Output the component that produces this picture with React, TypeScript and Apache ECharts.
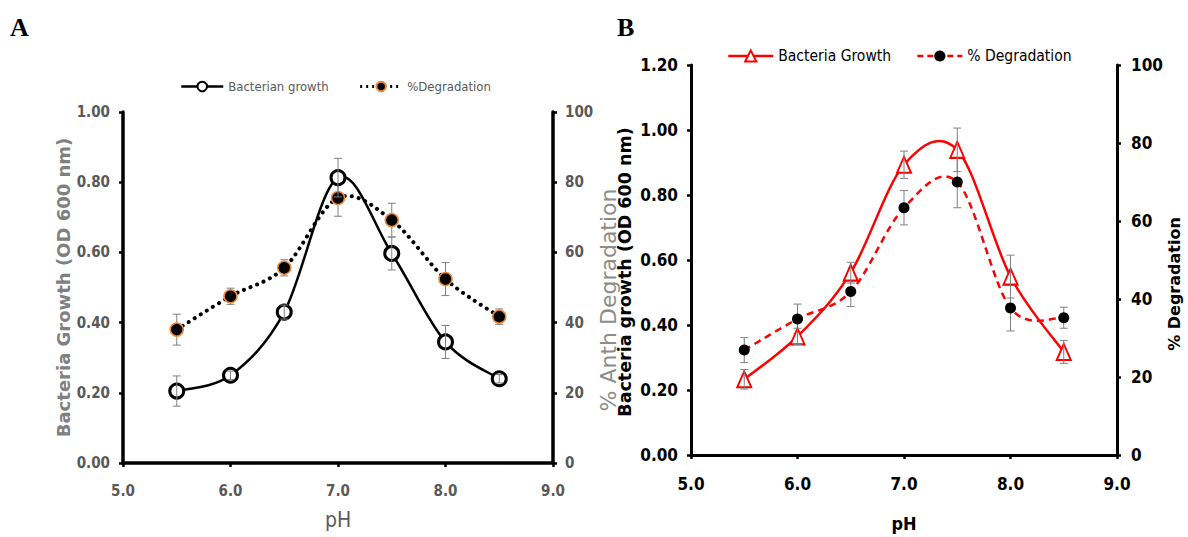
import React, { useEffect, useRef } from "react";
import * as echarts from "echarts";

const pH = [5.5, 6.0, 6.5, 7.0, 7.5, 8.0, 8.5];
const xTicks = [5, 6, 7, 8, 9];

// Panel A
const growthA = [0.205, 0.25, 0.43, 0.813, 0.597, 0.345, 0.24];
const growthAErr = [0.043, 0.012, 0.02, 0.055, 0.047, 0.047, 0.012];
const degA = [38, 47.5, 55.6, 75.5, 69.2, 52.4, 41.7];
const degAErr = [4.4, 2.3, 2.3, 5.2, 4.8, 4.7, 2.2];

// Panel B
const growthB = [0.233, 0.365, 0.561, 0.893, 0.939, 0.549, 0.317];
const growthBErr = [0.03, 0.025, 0.032, 0.042, 0.067, 0.066, 0.035];
const degB = [26.9, 34.9, 41.9, 63.4, 70, 37.7, 35.2];
const degBErr = [3.2, 3.8, 3.8, 4.4, 6.6, 5.9, 2.7];

const NARROW = "'Liberation Sans Narrow', 'DejaVu Sans Condensed', 'Roboto', sans-serif";
const WIDE = "'DejaVu Sans', 'Verdana', sans-serif";

// Smooth (Excel-like) spline through the points produced by the axis scales
echarts.graphic.registerShape(
  "crSpline",
  (echarts.graphic as any).extendShape({
    shape: { points: [] as number[][] },
    buildPath(ctx: any, shape: any) {
      const p = shape.points;
      const n = p.length;
      if (n < 2) return;
      ctx.moveTo(p[0][0], p[0][1]);
      for (let i = 0; i < n - 1; i++) {
        const p0 = p[Math.max(i - 1, 0)];
        const p1 = p[i];
        const p2 = p[i + 1];
        const p3 = p[Math.min(i + 2, n - 1)];
        ctx.bezierCurveTo(
          p1[0] + (p2[0] - p0[0]) / 6,
          p1[1] + (p2[1] - p0[1]) / 6,
          p2[0] - (p3[0] - p1[0]) / 6,
          p2[1] - (p3[1] - p1[1]) / 6,
          p2[0],
          p2[1]
        );
      }
    },
  })
);

function pairs(vals: number[]) {
  return pH.map((x, i) => [x, vals[i]]);
}
function triples(vals: number[], errs: number[]) {
  return pH.map((x, i) => [x, vals[i], errs[i]]);
}

function curveRender(style: any) {
  return (params: any, api: any) => {
    if (params.dataIndexInside !== 0) return null;
    const n = params.dataInsideLength;
    const pts: number[][] = [];
    for (let i = 0; i < n; i++) {
      pts.push(api.coord([api.value(0, i), api.value(1, i)]));
    }
    return { type: "crSpline", shape: { points: pts }, style: { fill: null, ...style } };
  };
}

function errRender(params: any, api: any) {
  const x = api.value(0);
  const y = api.value(1);
  const e = api.value(2);
  const top = api.coord([x, y + e]);
  const bot = api.coord([x, y - e]);
  const w = 4;
  const st = { stroke: "#808080", lineWidth: 1 };
  return {
    type: "group",
    children: [
      { type: "line", shape: { x1: top[0], y1: top[1], x2: bot[0], y2: bot[1] }, style: st },
      { type: "line", shape: { x1: top[0] - w, y1: top[1], x2: top[0] + w, y2: top[1] }, style: st },
      { type: "line", shape: { x1: bot[0] - w, y1: bot[1], x2: bot[0] + w, y2: bot[1] }, style: st },
    ],
  };
}

export default function App() {
  const ref = useRef<HTMLDivElement>(null);
  useEffect(() => {
    if (!ref.current) return;
    const chart = echarts.init(ref.current, undefined, { renderer: "svg" });

    const grayTick = { color: "#595959", fontFamily: NARROW, fontWeight: "bold" as const, fontSize: 15 };
    const blackTick = { color: "#000", fontFamily: NARROW, fontWeight: "bold" as const, fontSize: 17 };
    const axisLineA = { show: true, lineStyle: { color: "#000", width: 3.5 } };
    const axisLineB = { show: true, lineStyle: { color: "#000", width: 3 } };
    const tickA = { show: true, inside: false, length: 4, lineStyle: { color: "#000", width: 2.5 } };
    const hidden = { opacity: 0 };

    const option: any = {
      animation: false,
      backgroundColor: "#fff",
      graphic: [
        { type: "text", left: 10, top: 14, style: { text: "A", font: "bold 26px 'Liberation Serif', 'Times New Roman', serif", fill: "#000" } },
        { type: "text", left: 617, top: 14, style: { text: "B", font: "bold 26px 'Liberation Serif', 'Times New Roman', serif", fill: "#000" } },
      ],
      legend: [
        {
          left: 175,
          top: 75,
          itemWidth: 42,
          itemHeight: 12,
          itemGap: 30,
          data: [
            { name: "Bacterian growth", lineStyle: { color: "#000", width: 2.5, opacity: 1, type: "solid" } },
            { name: "%Degradation", lineStyle: { color: "#000", width: 3, opacity: 1, type: [2, 4] } },
          ],
          textStyle: { color: "#595959", fontFamily: NARROW, fontSize: 13 },
        },
        {
          left: 722,
          top: 43,
          itemWidth: 45,
          itemHeight: 14,
          itemGap: 25,
          data: [
            { name: "Bacteria Growth", lineStyle: { color: "#FF0000", width: 2.5, opacity: 1, type: "solid" } },
            { name: "% Degradation", lineStyle: { color: "#FF0000", width: 2.5, opacity: 1, type: [6, 4] } },
          ],
          textStyle: { color: "#000", fontFamily: NARROW, fontSize: 15.5 },
        },
      ],
      grid: [
        { left: 123, top: 112, width: 430, height: 351 },
        { left: 691, top: 65, width: 426, height: 394 },
      ],
      xAxis: [
        {
          type: "value", gridIndex: 0, min: xTicks[0], max: xTicks[xTicks.length - 1], interval: 1,
          name: "pH", nameLocation: "middle", nameGap: 46,
          nameTextStyle: { color: "#595959", fontFamily: NARROW, fontSize: 21 },
          axisLine: axisLineA, axisTick: tickA, splitLine: { show: false },
          axisLabel: { ...grayTick, margin: 20, formatter: (v: number) => v.toFixed(1) },
        },
        {
          type: "value", gridIndex: 1, min: xTicks[0], max: xTicks[xTicks.length - 1], interval: 1,
          name: "pH", nameLocation: "middle", nameGap: 59,
          nameTextStyle: { color: "#000", fontFamily: NARROW, fontWeight: "bold", fontSize: 18 },
          axisLine: axisLineB, axisTick: tickA, splitLine: { show: false },
          axisLabel: { ...blackTick, margin: 20, formatter: (v: number) => v.toFixed(1) },
        },
      ],
      yAxis: [
        {
          type: "value", gridIndex: 0, min: 0, max: 1, interval: 0.2, position: "left",
          name: "Bacteria Growth (OD 600 nm)", nameLocation: "middle", nameGap: 43, nameRotate: 90,
          nameTextStyle: { color: "#808080", fontFamily: WIDE, fontWeight: "bold", fontSize: 18 },
          axisLine: axisLineA, axisTick: tickA, splitLine: { show: false },
          axisLabel: { ...grayTick, margin: 13, formatter: (v: number) => v.toFixed(2) },
        },
        {
          type: "value", gridIndex: 0, min: 0, max: 100, interval: 20, position: "right",
          name: "% Anth Degradation", nameLocation: "middle", nameGap: 21, nameRotate: 90,
          nameTextStyle: { color: "#8c8c8c", fontFamily: WIDE, fontSize: 22, padding: [0, 25, 0, 0] },
          axisLine: axisLineA, axisTick: tickA, splitLine: { show: false },
          axisLabel: { ...grayTick, margin: 12 },
        },
        {
          type: "value", gridIndex: 1, min: 0, max: 1.2, interval: 0.2, position: "left",
          name: "Bacteria growth (OD 600 nm)", nameLocation: "middle", nameGap: 57, nameRotate: 90,
          nameTextStyle: { color: "#000", fontFamily: WIDE, fontWeight: "bold", fontSize: 17.5, padding: [0, 24, 0, 0] },
          axisLine: axisLineB, axisTick: tickA, splitLine: { show: false },
          axisLabel: { ...blackTick, margin: 13, formatter: (v: number) => v.toFixed(2) },
        },
        {
          type: "value", gridIndex: 1, min: 0, max: 100, interval: 20, position: "right",
          name: "% Degradation", nameLocation: "middle", nameGap: 48, nameRotate: 90,
          nameTextStyle: { color: "#000", fontFamily: WIDE, fontWeight: "bold", fontSize: 16, padding: [0, 48, 0, 0] },
          axisLine: axisLineB, axisTick: tickA, splitLine: { show: false },
          axisLabel: { ...blackTick, margin: 14 },
        },
      ],
      series: [
        // curves
        {
          type: "custom", xAxisIndex: 0, yAxisIndex: 1, z: 2, silent: true, encode: { x: 0, y: 1 },
          data: pairs(degA),
          renderItem: curveRender({ stroke: "#000", lineWidth: 4, lineDash: [0.1, 7], lineCap: "round" }),
        },
        {
          type: "custom", xAxisIndex: 0, yAxisIndex: 0, z: 2, silent: true, encode: { x: 0, y: 1 },
          data: pairs(growthA),
          renderItem: curveRender({ stroke: "#000", lineWidth: 2.5 }),
        },
        {
          type: "custom", xAxisIndex: 1, yAxisIndex: 3, z: 2, silent: true, encode: { x: 0, y: 1 },
          data: pairs(degB),
          renderItem: curveRender({ stroke: "#FF0000", lineWidth: 2.5, lineDash: [7, 5] }),
        },
        {
          type: "custom", xAxisIndex: 1, yAxisIndex: 2, z: 2, silent: true, encode: { x: 0, y: 1 },
          data: pairs(growthB),
          renderItem: curveRender({ stroke: "#FF0000", lineWidth: 2.5 }),
        },
        // markers
        {
          name: "%Degradation", type: "line", xAxisIndex: 0, yAxisIndex: 1,
          data: pairs(degA), z: 4, lineStyle: hidden,
          symbol: "circle", symbolSize: 13,
          itemStyle: { color: "#000", borderColor: "#E98A3C", borderWidth: 1.5 },
        },
        {
          name: "Bacterian growth", type: "line", xAxisIndex: 0, yAxisIndex: 0,
          data: pairs(growthA), z: 4, lineStyle: hidden,
          symbol: "circle", symbolSize: 14,
          itemStyle: { color: "#fff", borderColor: "#000", borderWidth: 3 },
        },
        {
          name: "% Degradation", type: "line", xAxisIndex: 1, yAxisIndex: 3,
          data: pairs(degB), z: 4, lineStyle: hidden,
          symbol: "circle", symbolSize: 11,
          itemStyle: { color: "#000", borderColor: "#000", borderWidth: 0 },
        },
        {
          name: "Bacteria Growth", type: "line", xAxisIndex: 1, yAxisIndex: 2,
          data: pairs(growthB), z: 4, lineStyle: hidden,
          symbol: "triangle", symbolSize: [14, 16],
          itemStyle: { color: "#fff", borderColor: "#FF0000", borderWidth: 2 },
        },
        // error bars
        {
          type: "custom", xAxisIndex: 0, yAxisIndex: 1, renderItem: errRender, z: 3,
          data: triples(degA, degAErr), encode: { x: 0, y: 1 }, silent: true,
        },
        {
          type: "custom", xAxisIndex: 0, yAxisIndex: 0, renderItem: errRender, z: 5,
          data: triples(growthA, growthAErr), encode: { x: 0, y: 1 }, silent: true,
        },
        {
          type: "custom", xAxisIndex: 1, yAxisIndex: 3, renderItem: errRender, z: 3,
          data: triples(degB, degBErr), encode: { x: 0, y: 1 }, silent: true,
        },
        {
          type: "custom", xAxisIndex: 1, yAxisIndex: 2, renderItem: errRender, z: 5,
          data: triples(growthB, growthBErr), encode: { x: 0, y: 1 }, silent: true,
        },
      ],
    };
    chart.setOption(option);
    return () => chart.dispose();
  }, []);
  return (
    <div
      ref={ref}
      style={{ position: "fixed", left: 0, top: 0, width: 1188, height: 537, background: "#fff" }}
    />
  );
}
